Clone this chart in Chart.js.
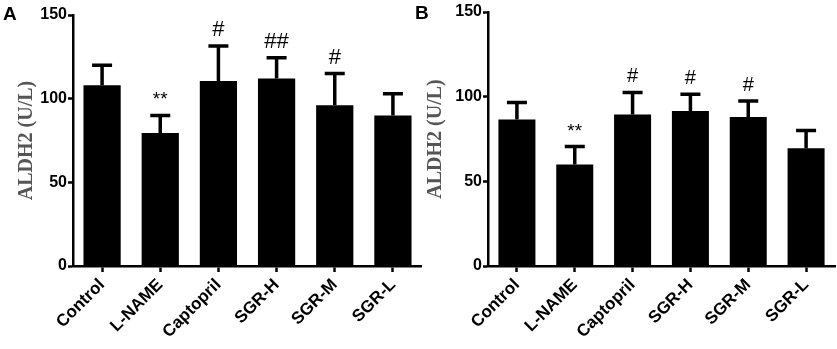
<!DOCTYPE html>
<html>
<head>
<meta charset="utf-8">
<script src="https://cdn.jsdelivr.net/npm/chart.js@4"></script>
<style>
  body { margin: 0; background: #fff; }
  #wrap { position: relative; width: 837px; height: 349px; overflow: hidden; }
  canvas { position: absolute; top: 0; }
  .panel { position: absolute; font: bold 19px "Liberation Sans", Arial, sans-serif; color: #000; }
</style>
</head>
<body>
<div id="wrap">
  <canvas id="chartA" style="left:0" width="422" height="349"></canvas>
  <canvas id="chartB" style="left:420px" width="417" height="349"></canvas>
  <div class="panel" style="left:3px;top:3px">A</div>
  <div class="panel" style="left:415px;top:2px">B</div>
</div>
<script>
var grupos = ['Control', 'L-NAME', 'Captopril', 'SGR-H', 'SGR-M', 'SGR-L'];
var mediasA = [108, 79.5, 110.5, 112, 96, 90];
var errosA = [12, 10.5, 21, 12.5, 19, 13];
var marcasA = ['', '**', '#', '##', '#', ''];
var mediasB = [86.5, 60, 89.5, 91.5, 88, 69.5];
var errosB = [10, 10.5, 13, 10, 9.5, 10.5];
var marcasB = ['', '**', '#', '#', '#', ''];
var ticksY = [0, 50, 100, 150];

// draws the upper error whisker and the significance marks
var barrasErro = {
    id: 'barrasErro',
    afterDatasetsDraw: function (chart, args, opts) {
        var ctx = chart.ctx;
        var yScale = chart.scales.y;
        var barras = chart.getDatasetMeta(0).data;
        ctx.save();
        ctx.strokeStyle = '#000';
        ctx.fillStyle = '#000';
        ctx.lineWidth = 3.5;
        barras.forEach(function (bar, i) {
            var topo = yScale.getPixelForValue(opts.medias[i] + opts.erros[i]);
            ctx.beginPath();
            ctx.moveTo(bar.x, bar.y);
            ctx.lineTo(bar.x, topo);
            ctx.moveTo(bar.x - 10, topo);
            ctx.lineTo(bar.x + 10, topo);
            ctx.stroke();
            var m = opts.marcas[i];
            if (m) {
                var tam = m == '**' ? opts.fonteAst : opts.fonteHash;
                ctx.font = tam + 'px "Liberation Sans", Arial, sans-serif';
                ctx.textAlign = 'center';
                ctx.textBaseline = 'alphabetic';
                ctx.fillText(m, bar.x, topo - opts.folga);
            }
        });
        ctx.restore();
    }
};

function montaGrafico(id, medias, erros, marcas, cfg) {
    var ctx = document.getElementById(id).getContext('2d');
    return new Chart(ctx, {
        type: 'bar',
        data: {
            labels: grupos,
            datasets: [{
                data: medias,
                backgroundColor: '#000',
                borderWidth: 0,
                barPercentage: 0.64,
                categoryPercentage: 1
            }]
        },
        options: {
            responsive: false,
            animation: false,
            layout: { padding: { top: cfg.topo, right: cfg.direita, left: 0, bottom: 0 } },
            plugins: {
                legend: { display: false },
                tooltip: { enabled: false },
                barrasErro: { medias: medias, erros: erros, marcas: marcas, fonteHash: cfg.fonteHash, fonteAst: cfg.fonteAst, folga: 10 }
            },
            scales: {
                x: {
                    grid: { display: true, drawOnChartArea: false, offset: false, tickLength: 6, tickWidth: 2.5, tickColor: '#000' },
                    border: { display: true, color: '#000', width: 2.5 },
                    ticks: {
                        color: '#000',
                        font: { family: '"Liberation Sans", Arial, sans-serif', size: 17, weight: 'bold' },
                        minRotation: 45,
                        maxRotation: 45,
                        padding: 3
                    },
                    afterFit: function (s) { s.height = 349 - cfg.base; }
                },
                y: {
                    min: 0,
                    max: 150,
                    afterBuildTicks: function (s) { s.ticks = ticksY.map(function (v) { return { value: v }; }); },
                    grid: { display: true, drawOnChartArea: false, tickLength: 5, tickWidth: 2.5, tickColor: '#000' },
                    border: { display: true, color: '#000', width: 2.5 },
                    ticks: {
                        color: '#000',
                        font: { family: '"Liberation Sans", Arial, sans-serif', size: 16, weight: 'bold' },
                        padding: 1
                    },
                    title: {
                        display: true,
                        text: 'ALDH2 (U/L)',
                        color: '#555',
                        font: { family: '"Liberation Serif", "Times New Roman", serif', size: 20, weight: 'bold' },
                        padding: { top: cfg.tituloPad, bottom: 0 }
                    },
                    afterFit: function (s) { s.width = cfg.eixo; }
                }
            }
        },
        plugins: [barrasErro]
    });
}

montaGrafico('chartA', mediasA, errosA, marcasA, { topo: 15, direita: 0, base: 266, eixo: 73, tituloPad: 15, fonteHash: 22, fonteAst: 19 });
montaGrafico('chartB', mediasB, errosB, marcasB, { topo: 12, direita: 2, base: 266, eixo: 68, tituloPad: 4, fonteHash: 20, fonteAst: 19 });
</script>
</body>
</html>
